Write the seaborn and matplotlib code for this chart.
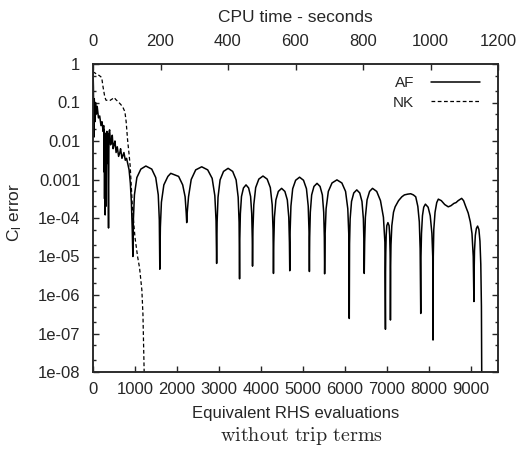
import numpy as np
import pandas as pd
import matplotlib
matplotlib.use('Agg')
import matplotlib.pyplot as plt
import seaborn as sns
from matplotlib.ticker import LogLocator, NullFormatter, NullLocator

# style / fonts (set after seaborn so they stick)
sns.set_style('ticks')
plt.rcParams['font.family'] = ['Liberation Sans', 'DejaVu Sans']
plt.rcParams['mathtext.fontset'] = 'custom'
plt.rcParams['mathtext.rm'] = 'Liberation Sans'
plt.rcParams['mathtext.it'] = 'Liberation Sans:italic'
plt.rcParams['axes.linewidth'] = 1.1

# --- data (x: equivalent RHS evaluations, y: log10 of Cl error) ---
af_rhs = [
    0, 10, 20, 30, 45, 60, 80, 100, 130, 160, 190, 215, 240,
    255, 262, 268, 275, 282, 290, 298, 305, 312, 320, 330, 340, 350, 362, 370, 378, 386, 396,
    420, 440, 459, 480, 500, 523, 550, 578, 610, 640, 657, 690, 720, 737, 770, 800, 830, 860, 890, 915, 935,
    950, 962, 987, 1045, 1140, 1259, 1400, 1495, 1555, 1580,
    1592, 1605, 1630, 1688, 1784, 1853, 2040, 2137, 2195, 2220,
    2233, 2246, 2276, 2340, 2447, 2590, 2733, 2839, 2903, 2932,
    2946, 2957, 2979, 3028, 3110, 3219, 3328, 3410, 3459, 3481,
    3492, 3498, 3511, 3538, 3585, 3646, 3708, 3755, 3782, 3795,
    3801, 3811, 3831, 3876, 3951, 4050, 4150, 4225, 4270, 4290,
    4300, 4308, 4323, 4358, 4416, 4494, 4572, 4630, 4665, 4680,
    4688, 4697, 4716, 4758, 4828, 4922, 5016, 5086, 5128, 5147,
    5156, 5163, 5178, 5210, 5265, 5338, 5410, 5465, 5497, 5512,
    5519, 5531, 5554, 5607, 5695, 5812, 5930, 6018, 6071, 6094,
    6106, 6113, 6127, 6160, 6213, 6285, 6356, 6409, 6442, 6456,
    6463, 6473, 6490, 6530, 6590, 6660, 6760, 6850, 6920, 6955,
    6968, 6971, 6976, 6986, 7000, 7027, 7055, 7069, 7079, 7084,
    7087, 7092, 7100, 7120, 7160, 7199, 7280, 7358, 7420, 7500, 7570, 7634, 7690, 7740, 7775, 7795,
    7809, 7815, 7827, 7850, 7880, 7920, 7985, 8035, 8075, 8095,
    8102, 8108, 8120, 8150, 8190, 8228, 8300, 8380, 8465, 8530, 8600, 8650, 8700, 8784, 8830, 8880,
    8940, 8990, 9030, 9060,
    9076, 9080, 9090, 9110, 9135, 9164, 9195, 9220, 9240, 9255, 9266,
]
af_log10 = [
    -0.15, -0.6, -1.9, -0.9, -1.5, -1.0, -1.3, -1.1, -1.4, -1.35, -1.6, -1.5, -1.75,
    -1.6, -2.8, -1.7, -3.5, -1.9, -3.92, -1.8, -3.7, -2.0, -2.6, -1.75, -2.4, -1.8, -3.0, -4.26, -2.2, -1.75, -1.71,
    -2.1, -2.0, -1.85, -2.2, -2.1, -2.0, -2.3, -2.15, -2.4, -2.3, -2.2, -2.45, -2.35, -2.3, -2.5, -2.45, -2.6, -2.75, -3.1, -3.6, -4.3,
    -5.0, -4.05, -3.4, -2.95, -2.73, -2.65, -2.73, -2.95, -3.4, -4.05,
    -5.33, -4.24, -3.59, -3.14, -2.92, -2.84, -2.92, -3.14, -3.45, -3.85,
    -4.12, -3.85, -3.45, -3.0, -2.75, -2.67, -2.75, -2.97, -3.42, -4.07,
    -5.18, -4.11, -3.46, -3.01, -2.79, -2.71, -2.79, -3.01, -3.46, -4.11,
    -5.58, -4.54, -3.89, -3.44, -3.22, -3.14, -3.22, -3.44, -3.89, -4.54,
    -5.25, -4.31, -3.66, -3.21, -2.99, -2.91, -2.99, -3.21, -3.66, -4.31,
    -5.44, -4.63, -3.98, -3.53, -3.31, -3.23, -3.31, -3.53, -3.98, -4.63,
    -5.37, -4.34, -3.69, -3.24, -3.02, -2.94, -3.02, -3.24, -3.69, -4.34,
    -5.39, -4.5, -3.85, -3.4, -3.18, -3.10, -3.18, -3.4, -3.85, -4.5,
    -5.45, -4.41, -3.76, -3.31, -3.09, -3.01, -3.09, -3.31, -3.76, -4.41,
    -6.61, -4.67, -4.02, -3.57, -3.35, -3.27, -3.35, -3.57, -4.02, -4.67,
    -5.44, -4.63, -3.98, -3.53, -3.31, -3.23, -3.31, -3.55, -3.98, -4.63,
    -6.89, -5.4, -4.9, -4.45, -4.2, -4.12, -4.2, -4.45, -4.9, -5.4,
    -6.65, -5.3, -4.7, -4.2, -3.85, -3.71, -3.55, -3.45, -3.40, -3.38, -3.37, -3.40, -3.45, -3.7, -4.1, -4.8,
    -6.48, -5.0, -4.4, -3.94, -3.72, -3.64, -3.72, -3.94, -4.4, -5.0,
    -7.17, -5.0, -4.3, -3.85, -3.6, -3.51, -3.55, -3.65, -3.71, -3.68, -3.62, -3.6, -3.55, -3.49, -3.55, -3.7,
    -3.87, -4.1, -4.4, -5.0,
    -6.17, -5.5, -4.85, -4.45, -4.27, -4.21, -4.3, -4.6, -5.2, -6.3, -9.0,
]
nk_rhs = [0, 70, 150, 207, 240, 280, 309, 400, 470, 506, 540, 600, 660, 706, 760, 790, 824, 860,
          886, 943, 1000, 1062, 1110, 1164, 1190, 1219, 1240]
nk_log10 = [-0.2, -0.25, -0.3, -0.35, -0.6, -0.85, -0.94, -0.95, -0.9, -0.87, -0.92, -0.98, -1.05,
            -1.11, -1.24, -1.5, -1.97, -2.35, -2.65, -3.79, -4.5, -5.0, -5.3, -5.87, -6.5, -8.0, -9.0]

x_ticks = [0, 1000, 2000, 3000, 4000, 5000, 6000, 7000, 8000, 9000]
cpu_ticks = [0, 200, 400, 600, 800, 1000, 1200]
y_ticks = [1, 0.1, 0.01, 0.001, 1e-4, 1e-5, 1e-6, 1e-7, 1e-8]
y_tick_labels = ['1', '0.1', '0.01', '0.001', '1e-04', '1e-05', '1e-06', '1e-07', '1e-08']

af = pd.DataFrame({'rhs': af_rhs, 'err': 10.0 ** np.array(af_log10)})
nk = pd.DataFrame({'rhs': nk_rhs, 'err': 10.0 ** np.array(nk_log10)})

fig = plt.figure(figsize=(5.23, 4.62), dpi=100)
ax = fig.add_axes([93 / 523, 1 - 372 / 462, 405 / 523, 308 / 462])

sns.lineplot(data=af, x='rhs', y='err', ax=ax, color='black', linewidth=1.1,
             estimator=None, sort=False, label='AF')
sns.lineplot(data=nk, x='rhs', y='err', ax=ax, color='black', linewidth=0.9,
             linestyle=(0, (3, 2)), estimator=None, sort=False, label='NK')

ax.set_yscale('log')
ax.set_xlim(0, 9650)
ax.set_ylim(1e-8, 1)
ax.set_xticks(x_ticks)
ax.set_yticks(y_ticks, labels=y_tick_labels)
ax.yaxis.set_minor_locator(LogLocator(base=10, subs=(2, 5), numticks=20))
ax.yaxis.set_minor_formatter(NullFormatter())
ax.xaxis.set_minor_locator(NullLocator())
ax.tick_params(axis='both', which='both', direction='in', right=True, top=False, labelsize=12)
ax.tick_params(which='major', length=4, width=1)
ax.tick_params(which='minor', length=2.5, width=1)
ax.tick_params(axis='x', pad=7)
ax.tick_params(axis='y', pad=9)

ax.set_xlabel('Equivalent RHS evaluations', fontsize=12)
ax.xaxis.set_label_coords(0.5, -0.11)
ax.set_ylabel(r'C$_{\mathrm{l}}$ error', fontsize=12.5)
ax.yaxis.set_label_coords(-0.17, 0.517)

# CPU time on top
ax2 = ax.twiny()
ax2.set_xlim(0, 1200)
ax2.set_xticks(cpu_ticks)
ax2.xaxis.set_minor_locator(NullLocator())
ax2.tick_params(axis='x', direction='in', length=4, width=1, pad=11, labelsize=12)
ax2.set_xlabel('CPU time - seconds', fontsize=12.5)
ax2.xaxis.set_label_coords(0.5, 1.136)

ax.legend(loc='upper right', bbox_to_anchor=(0.955, 0.96), frameon=False, markerfirst=False,
          fontsize=11, handlelength=3.2, handletextpad=1.1, labelspacing=0.35, borderaxespad=0,
          borderpad=0)

fig.text(301 / 523, 1 - 441 / 462, r'$\mathrm{without\ trip\ terms}$', math_fontfamily='cm',
         ha='center', va='baseline', fontsize=14.5)

fig.savefig('out.png', dpi=100)
